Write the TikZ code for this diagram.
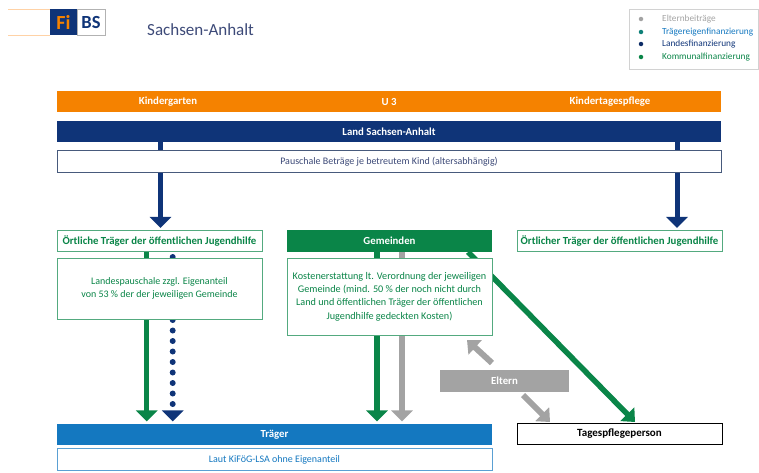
\documentclass[tikz,border=0pt]{standalone}
\usepackage{fontspec}
\setmainfont{Carlito}
\usetikzlibrary{arrows.meta,backgrounds}
\definecolor{fibsorange}{HTML}{F58200}
\definecolor{fibsnavy}{HTML}{0F3478}
\definecolor{fibsgreen}{HTML}{0A8548}
\definecolor{fibsblue}{HTML}{1478C0}
\definecolor{fibsgrey}{HTML}{A3A3A3}
\definecolor{fibstext}{HTML}{3D4A78}
\tikzset{
    band/.style={outer sep=0pt,inner sep=0pt,minimum height=21.5pt,text=white,font=\fontsize{10.8}{12}\selectfont\bfseries},
    outline/.style={draw=#1,line width=0.6pt,fill=white,outer sep=0pt,inner sep=0pt,minimum height=21.5pt,align=center,font=\fontsize{10}{12.5}\selectfont},
    legendtext/.style={anchor=west,inner sep=0pt,font=\fontsize{9.3}{10}\selectfont},
    legenddot/.style={circle,inner sep=0pt,minimum size=4.5pt},
    downarrow/.style={-{Triangle[length=11pt,width=21pt]},line width=5pt,draw=#1,shorten >=2.3pt},
    slantarrow/.style={-{Triangle[length=11pt,width=19pt]},line width=#1},
}
\begin{document}
\begin{tikzpicture}[x=1pt,y=-1pt]
        \useasboundingbox (0,0) rectangle (759,472);
        \draw[orange!35,line width=0.6pt] (8,9) -- (50,9) (8,35) -- (50,35);
        \node[outer sep=0pt,inner sep=0pt,fill=fibsnavy,minimum width=27pt,minimum height=26pt,text=fibsorange,font=\fontsize{20}{20}\selectfont\bfseries] (logofi) at (63.5,22) {Fi};
        \node[outer sep=0pt,inner sep=0pt,draw=gray!60,line width=0.4pt,fill=white,minimum width=28pt,minimum height=26pt,text=fibsnavy,font=\fontsize{18.5}{18.5}\selectfont\bfseries] (logobs) at (91,22) {BS};
        \node[text=fibstext,font=\fontsize{17}{18}\selectfont,anchor=west,inner sep=0pt] (title) at (147,30) {Sachsen-Anhalt};

        \node[draw=gray!35,line width=0.6pt,minimum width=129.5pt,minimum height=60pt,outer sep=0pt,inner sep=0pt] (legend) at (693.75,39) {};
        \node[legenddot,fill=fibsgrey] (dotel) at (641,19) {};
        \node[legenddot,fill=fibsgreen!60!fibsblue] (dottr) at (641,32) {};
        \node[legenddot,fill=fibsnavy!85!black] (dotla) at (641,44) {};
        \node[legenddot,fill=fibsgreen] (dotko) at (641,57) {};
        \node[legendtext,text=fibsgrey] (textel) at (662,19) {Elternbeiträge};
        \node[legendtext,text=fibsblue] (texttr) at (662,32) {Trägereigenfinanzierung};
        \node[legendtext,text=fibsnavy] (textla) at (662,44) {Landesfinanzierung};
        \node[legendtext,text=fibsgreen] (textko) at (662,57) {Kommunalfinanzierung};

        \node[band,fill=fibsorange,minimum width=664pt] (betreuung) at (389,101.5) {U 3};
        \node[band,text=white,anchor=center] (kita) at (168,101.5) {Kindergarten};
        \node[band,text=white,anchor=center] (tagespflege) at (610,101.5) {Kindertagespflege};
        \node[band,fill=fibsnavy,minimum width=664pt] (land) at (389,131.5) {Land Sachsen-Anhalt};
        \node[outline=fibsnavy!50!gray,text=fibstext,minimum width=664pt] (pauschale) at (389,161.5) {Pauschale Beträge je betreutem Kind (altersabhängig)};

        \node[outline=fibsgreen!70,text=fibsgreen,minimum width=205pt,font=\fontsize{10.8}{12}\selectfont\bfseries] (oertlinks) at (159.5,241) {Örtliche Träger der öffentlichen Jugendhilfe};
        \node[band,fill=fibsgreen,minimum width=205pt] (gemeinden) at (389.5,241) {Gemeinden};
        \node[outline=fibsgreen!70,text=fibsgreen,minimum width=205pt,font=\fontsize{10.8}{12}\selectfont\bfseries] (oertrechts) at (619.5,241) {Örtlicher Träger der öffentlichen Jugendhilfe};
        \node[outline=fibsgreen!70,text=fibsgreen,minimum width=205pt,minimum height=61pt,font=\fontsize{10}{13.5}\selectfont] (landes) at (159.5,288.5) {Landespauschale zzgl. Eigenanteil\\von 53 \% der der jeweiligen Gemeinde};
        \node[outline=fibsgreen!70,text=fibsgreen,minimum width=205pt,minimum height=77pt,font=\fontsize{10.2}{13.3}\selectfont] (kosten) at (389.5,296.5) {Kostenerstattung lt. Verordnung der jeweiligen\\Gemeinde (mind. 50 \% der noch nicht durch\\Land und öffentlichen Träger der öffentlichen\\Jugendhilfe gedeckten Kosten)};

        \node[band,fill=fibsgrey,minimum width=129pt] (eltern) at (504.5,381) {Eltern};
        \node[band,fill=fibsblue,minimum width=435pt] (traeger) at (274.5,434.5) {Träger};
        \node[outline=fibsblue!70,text=fibsblue,minimum width=435pt] (laut) at (274.5,459.5) {Laut KiFöG-LSA ohne Eigenanteil};
        \node[outline=black,text=black,minimum width=205pt,font=\fontsize{11}{12}\selectfont\bfseries] (tagesperson) at (619.5,434) {Tagespflegeperson};

        \coordinate (landlinks) at (160.5,142);
        \coordinate (landrechts) at (677,142);
        \coordinate (gruenlinks) at (146.7,252);
        \coordinate (navylinks) at (172.7,252);
        \coordinate (gruenmitte) at (377,252);
        \coordinate (graumitte) at (402,252);
        \coordinate (gruenschraeg) at (468,252);
        \coordinate (gruenziel) at (635,422);
        \coordinate (elternauf) at (492,363);
        \coordinate (elternaufziel) at (467,340);
        \coordinate (elternab) at (523,395);
        \coordinate (elternabziel) at (550,422);

        \begin{pgfonlayer}{background}
        \draw[downarrow=fibsnavy] (landlinks) -- (landlinks |- oertlinks.north);
        \draw[downarrow=fibsnavy] (landrechts) -- (landrechts |- oertrechts.north);
        \draw[downarrow=fibsgreen,line width=5.5pt] (gruenlinks) -- (gruenlinks |- traeger.north);
        \draw[downarrow=fibsgreen,line width=5.5pt] (gruenmitte) -- (gruenmitte |- traeger.north);
        \draw[downarrow=fibsgrey,line width=5.5pt] (graumitte) -- (graumitte |- traeger.north);
        \draw[downarrow=fibsnavy,line width=6pt,line cap=round,dash pattern=on 0pt off 10.5pt,dash phase=5.5pt] (navylinks) -- (navylinks |- traeger.north);
        \draw[slantarrow=5.5pt,draw=fibsgreen] (gruenschraeg) -- (gruenziel);
        \draw[slantarrow=6pt,draw=fibsgrey] (elternauf) -- (elternaufziel);
        \draw[slantarrow=6pt,draw=fibsgrey] (elternab) -- (elternabziel);
        \end{pgfonlayer}
\end{tikzpicture}
\end{document}
